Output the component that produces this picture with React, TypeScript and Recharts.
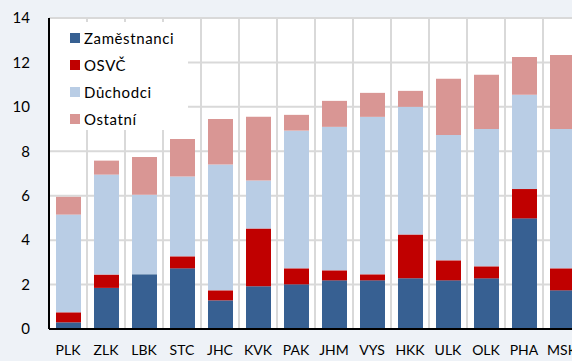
import { Bar, BarChart, CartesianGrid, XAxis, YAxis } from "recharts";

const regions = ["PLK", "ZLK", "LBK", "STC", "JHC", "KVK", "PAK", "JHM", "VYS", "HKK", "ULK", "OLK", "PHA", "MSK"];

const zamestnanci = [0.3, 1.85, 2.46, 2.73, 1.29, 1.92, 2.01, 2.19, 2.19, 2.28, 2.19, 2.28, 4.98, 1.74];
const osvc = [0.45, 0.6, 0, 0.54, 0.45, 2.6, 0.72, 0.45, 0.27, 1.97, 0.9, 0.54, 1.32, 0.99];
const duchodci = [4.4, 4.5, 3.58, 3.59, 5.66, 2.16, 6.2, 6.46, 7.09, 5.75, 5.64, 6.18, 4.24, 6.27];
const ostatni = [0.8, 0.63, 1.7, 1.69, 2.05, 2.87, 0.71, 1.17, 1.08, 0.72, 2.53, 2.44, 1.71, 3.34];

const yTicks = [0, 2, 4, 6, 8, 10, 12, 14];

const series = [
  { key: "Zaměstnanci", color: "#376092" },
  { key: "OSVČ", color: "#c00000" },
  { key: "Důchodci", color: "#b9cde5" },
  { key: "Ostatní", color: "#d99694" },
];

const rows = regions.map((region, i) => ({
  region,
  "Zaměstnanci": zamestnanci[i],
  "OSVČ": osvc[i],
  "Důchodci": duchodci[i],
  "Ostatní": ostatni[i],
}));

const font = "Lato, 'Open Sans', sans-serif";

// legend sits on a white box over the top-left of the plot
function LegendBox() {
  return (
    <div
      style={{
        position: "absolute",
        left: 50,
        top: 22,
        width: 138,
        height: 108,
        background: "#fff",
        paddingTop: 2,
        boxSizing: "border-box",
      }}
    >
      {series.map((s) => (
        <div key={s.key} style={{ display: "flex", alignItems: "center", height: 27, paddingLeft: 20 }}>
          <span style={{ width: 10, height: 10, background: s.color, marginRight: 4, display: "inline-block" }} />
          <span style={{ fontFamily: font, fontSize: 15, color: "#000", letterSpacing: 0.6 }}>{s.key}</span>
        </div>
      ))}
    </div>
  );
}

export default function App() {
  return (
    <div
      style={{
        position: "absolute",
        left: 0,
        top: 0,
        width: 572,
        height: 361,
        overflow: "hidden",
        background: "#eef2f7",
      }}
    >
      <BarChart
        width={600}
        height={361}
        data={rows}
        margin={{ top: 18, right: 19, left: 0, bottom: 10 }}
        barSize={25}
        style={{ fontFamily: font }}
      >
        <CartesianGrid
          stroke="#d9d9d9"
          strokeWidth={2}
          fill="#fff"
          fillOpacity={1}
          verticalCoordinatesGenerator={(props: any) => {
            const off = props.offset;
            return regions.map((_, i) => off.left + ((i + 1) * off.width) / regions.length);
          }}
        />
        <XAxis
          dataKey="region"
          height={22}
          tickLine={false}
          tickSize={0}
          tickMargin={16}
          axisLine={{ stroke: "#000", strokeWidth: 2 }}
          tick={{ fill: "#000", fontSize: 14 }}
          interval={0}
        />
        <YAxis
          width={49}
          domain={[0, 14]}
          ticks={yTicks}
          tickLine={false}
          tickSize={0}
          tickMargin={19}
          axisLine={{ stroke: "#000", strokeWidth: 2 }}
          tick={{ fill: "#000", fontSize: 15 }}
        />
        {series.map((s) => (
          <Bar key={s.key} dataKey={s.key} stackId="a" fill={s.color} isAnimationActive={false} />
        ))}
      </BarChart>
      <LegendBox />
    </div>
  );
}
